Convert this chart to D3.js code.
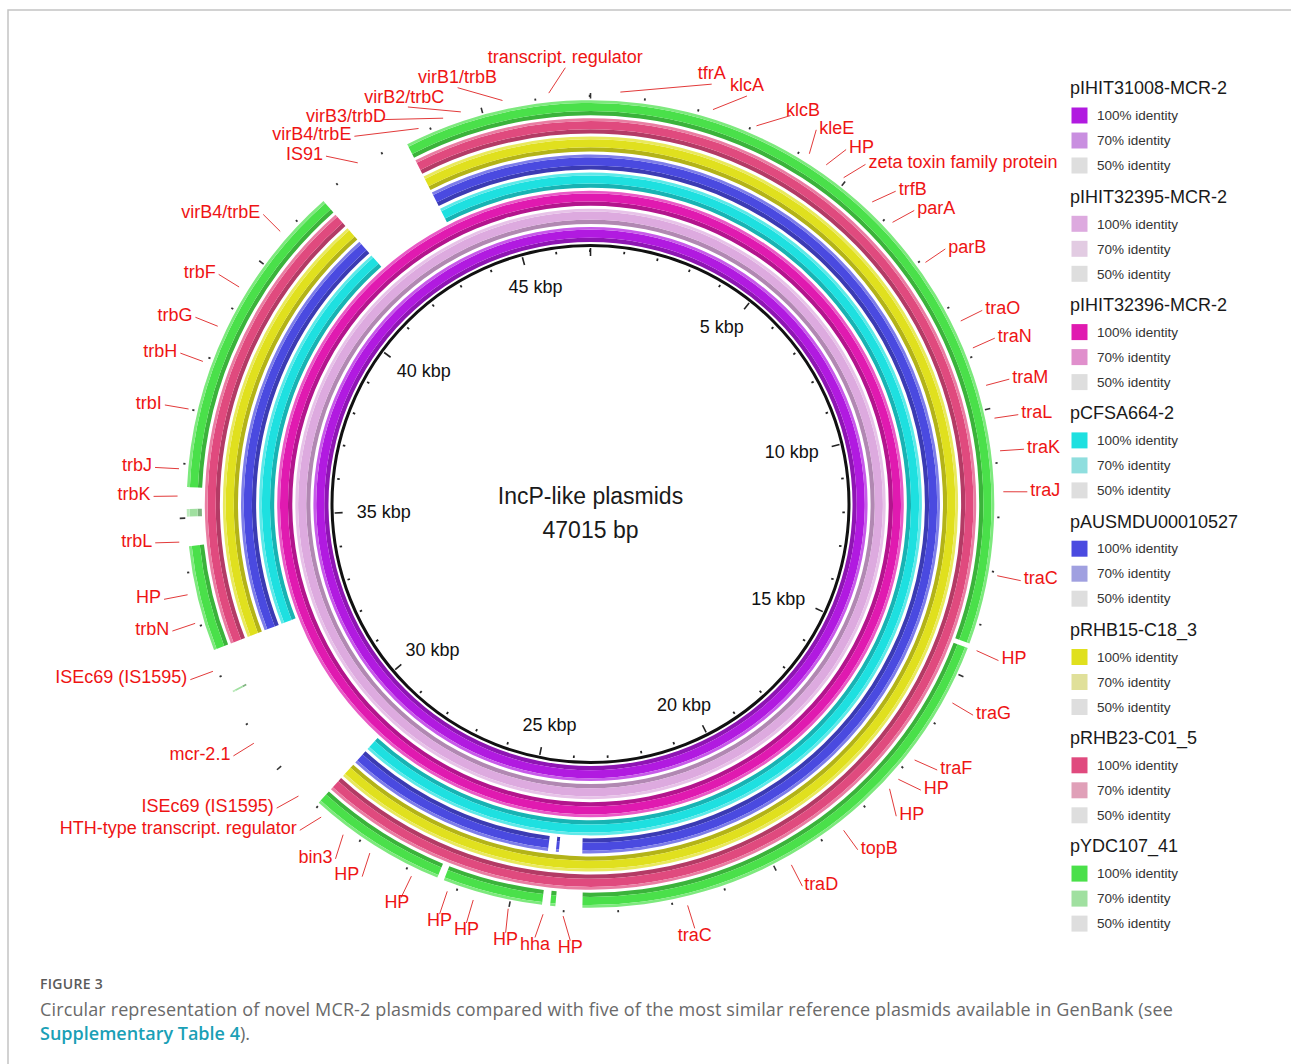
<!DOCTYPE html>
<html>
<head>
<meta charset="utf-8">
<script src="https://cdn.jsdelivr.net/npm/d3@7"></script>
<style>
  body { margin: 0; background: #ffffff; }
  svg { display: block; font-family: "Liberation Sans", Arial, sans-serif; }
</style>
</head>
<body>
<svg id="fig" width="1291" height="1064"></svg>
<script>
// ---------------- data ----------------
const genomeLength = 47015;

// rings, from the innermost to the outermost
const plasmidNames = [
  "pIHIT31008-MCR-2", "pIHIT32395-MCR-2", "pIHIT32396-MCR-2", "pCFSA664-2",
  "pAUSMDU00010527", "pRHB15-C18_3", "pRHB23-C01_5", "pYDC107_41"
];
const identityLevels = ["100% identity", "70% identity", "50% identity"];

// BLAST hits per ring: [start bp, end bp, identity %]
const hitsPIHIT31008 = [[0, 47015, 100]];
const hitsPIHIT32395 = [[0, 47015, 100]];
const hitsPIHIT32396 = [[0, 47015, 100]];
const hitsPCFSA664 = [[0, 29032, 100], [32493, 41608, 100], [43489, 47015, 100]];
const hitsPAUSMDU = [[0, 23684, 100], [24187, 24252, 100], [24422, 29032, 100],
                     [32493, 41608, 100], [43489, 47015, 100]];
const hitsPRHB15 = [[0, 29032, 100], [32493, 41608, 100], [43489, 47015, 100]];
const hitsPRHB23 = [[0, 29032, 100], [32493, 41608, 100], [43489, 47015, 100]];
const hitsPYDC107 = [[0, 14392, 100], [14483, 23658, 100], [24160, 24258, 100],
                     [24409, 26289, 100], [26420, 29032, 100], [31631, 31664, 70],
                     [32493, 34478, 100], [35026, 35170, 70], [35575, 41608, 100],
                     [43489, 47015, 100]];

// annotated genes: name, feature position (bp), label position (bp)
const geneNames = [
  "transcript. regulator", "tfrA", "klcA", "klcB", "kleE", "HP", "zeta toxin family protein",
  "trfB", "parA", "parB", "traO", "traN", "traM", "traL", "traK", "traJ", "traC", "HP",
  "traG", "traF", "HP", "HP", "topB", "traD", "traC", "HP", "hha", "HP", "HP", "HP", "HP",
  "HP", "bin3", "HTH-type transcript. regulator", "ISEc69 (IS1595)", "mcr-2.1",
  "ISEc69 (IS1595)", "trbN", "HP", "trbL", "trbK", "trbJ", "trbI", "trbH", "trbG", "trbF",
  "virB4/trbE", "IS91", "virB4/trbE", "virB3/trbD", "virB2/trbC", "virB1/trbB"
];
const genePositions = [
  46258, 541, 2253, 3095, 4179, 4545, 4937, 5616, 6138, 7078, 8319, 8854, 9573, 10187,
  10787, 11532, 13060, 14470, 15515, 16756, 17213, 17448, 18571, 19707, 21731, 24004,
  24369, 25009, 25662, 26158, 26864, 27726, 28313, 28823, 29384, 30638, 32140, 33067,
  33603, 34569, 35405, 35901, 36998, 37899, 38591, 39401, 40655, 42535, 43802, 44285,
  44625, 45408
];
const geneLabelPositions = [
  46584, 2103, 2740, 3560, 4062, 4675, 5093, 5785, 6243, 7090, 8319, 8841, 9586, 10213,
  10813, 11545, 13073, 14496, 15528, 16651, 17095, 17709, 18584, 19720, 21705, 23854,
  24461, 24970, 25662, 26146, 26864, 27621, 28170, 28953, 29502, 30664, 32166, 33054,
  33616, 34595, 35392, 35888, 36972, 37899, 38565, 39401, 40681, 42150, 42744, 43306,
  43789, 44703
];

// ruler
const rulerLabels = ["5 kbp", "10 kbp", "15 kbp", "20 kbp", "25 kbp", "30 kbp", "35 kbp", "40 kbp", "45 kbp"];
const rulerLabelPositions = [5000, 10000, 15000, 20000, 25000, 30000, 35000, 40000, 45000];
const titleLines = ["IncP-like plasmids", "47015 bp"];

// ---------------- styling ----------------
const fullColors = ["#b11ae0", "#ddaadf", "#e01ab0", "#1ee0e0", "#4a4ae0", "#e0e01e", "#e04a7e", "#4ae04a"];
const partialColors = ["#c98fe0", "#e2cbe2", "#e08fcc", "#8fdede", "#a0a0e0", "#e0e09a", "#e0a0b8", "#a0e0a0"];
const faintColor = "#dedede";
const labelRed = "#ee1414";

const rings = [hitsPIHIT31008, hitsPIHIT32395, hitsPIHIT32396, hitsPCFSA664,
               hitsPAUSMDU, hitsPRHB15, hitsPRHB23, hitsPYDC107]
  .map((hits, i) => ({ name: plasmidNames[i], hits, full: fullColors[i], partial: partialColors[i] }));

// join a hit that runs up to the end of the sequence with one that starts at 0
function wrapHits(hits) {
  const list = hits.map(h => h.slice());
  const last = list[list.length - 1], first = list[0];
  if (list.length > 1 && last[1] >= genomeLength && first[0] <= 0 && last[2] === first[2]) {
    list.pop();
    list[0] = [last[0], genomeLength + first[1], first[2]];
  }
  return list;
}

const svg = d3.select("#fig");
const cx = 590.5, cy = 504;
const angle = d3.scaleLinear().domain([0, genomeLength]).range([0, 2 * Math.PI]);
const polar = (bp, r) => { const t = angle(bp); return [cx + r * Math.sin(t), cy - r * Math.cos(t)]; };
const mix = (c, target, k) => d3.interpolateRgb(c, target)(k);

// frame
svg.append("path").attr("d", "M8,1064 V10 H1291").attr("fill", "none")
  .attr("stroke", "#c4c4c4").attr("stroke-width", 1.5);

const plot = svg.append("g").attr("transform", `translate(${cx},${cy})`);
const arc = d3.arc();

// identity rings with a light rim on the outside and a shadow on the inside
const ringInner = 262, ringStep = 18.1, ringWidth = 15.1;
rings.forEach((ring, i) => {
  const r0 = ringInner + i * ringStep, r1 = r0 + ringWidth;
  const layer = plot.append("g").attr("class", "ring");
  wrapHits(ring.hits).forEach(([s, e, id]) => {
    const base = id >= 100 ? ring.full : id >= 70 ? ring.partial : faintColor;
    const bands = [
      [r0, r0 + 4.2, mix(base, "#000", 0.2)],
      [r0 + 4.2, r1 - 2.8, base],
      [r1 - 2.8, r1, mix(base, "#fff", 0.28)]
    ];
    bands.forEach(([a, b, c]) => {
      layer.append("path")
        .attr("d", arc({ innerRadius: a, outerRadius: b, startAngle: angle(s), endAngle: angle(e) }))
        .attr("fill", c);
    });
  });
});

// backbone circle with inner ruler
const backboneR = 258.5;
plot.append("circle").attr("r", backboneR).attr("fill", "none")
  .attr("stroke", "#111").attr("stroke-width", 3);
const kbSteps = d3.range(0, genomeLength, 1000);
kbSteps.forEach(bp => {
  const major = bp % 5000 === 0;
  const t = angle(bp);
  const ra = major ? 248 : 252, rb = major ? 256 : 254.5;
  plot.append("line")
    .attr("x1", ra * Math.sin(t)).attr("y1", -ra * Math.cos(t))
    .attr("x2", rb * Math.sin(t)).attr("y2", -rb * Math.cos(t))
    .attr("stroke", "#222").attr("stroke-width", major ? 1.6 : 1.8);
});
// outer ruler
kbSteps.forEach(bp => {
  const major = bp % 5000 === 0;
  const t = angle(bp);
  const ra = major ? 405.5 : 407, rb = major ? 411 : 409.2;
  plot.append("line")
    .attr("x1", ra * Math.sin(t)).attr("y1", -ra * Math.cos(t))
    .attr("x2", rb * Math.sin(t)).attr("y2", -rb * Math.cos(t))
    .attr("stroke", "#333").attr("stroke-width", major ? 1.6 : 1.8);
});

// ruler labels, placed just inside the backbone
rulerLabels.forEach((txt, i) => {
  const bp = rulerLabelPositions[i];
  const t = angle(bp), s = Math.sin(t), c = Math.cos(t);
  const [ax, ay] = polar(bp, 236);
  const el = svg.append("text").text(txt).attr("font-size", 18).attr("fill", "#111")
    .attr("text-anchor", "middle").attr("dy", "0.35em");
  const w = el.node().getComputedTextLength();
  el.attr("x", ax - (w / 2 + 2) * s).attr("y", ay + 10.5 * c);
});

// title in the middle
svg.append("text").attr("x", cx).attr("y", cy - 8).attr("dy", "0.35em")
  .attr("text-anchor", "middle").attr("font-size", 23).attr("fill", "#1a1a1a").text(titleLines[0]);
svg.append("text").attr("x", cx).attr("y", cy + 26).attr("dy", "0.35em")
  .attr("text-anchor", "middle").attr("font-size", 23).attr("fill", "#1a1a1a").text(titleLines[1]);

// gene labels with leader lines
const smooth = (a, b, x) => { const u = Math.max(0, Math.min(1, (x - a) / (b - a))); return u * u * (3 - 2 * u); };
geneNames.forEach((name, i) => {
  const [x1, y1] = polar(genePositions[i], 413);
  const [ax, ay] = polar(geneLabelPositions[i], 437);
  svg.append("line").attr("x1", x1).attr("y1", y1).attr("x2", ax).attr("y2", ay)
    .attr("stroke", "#e23a3a").attr("stroke-width", 1);
  const t = angle(geneLabelPositions[i]), s = Math.sin(t), c = Math.cos(t);
  const el = svg.append("text").text(name).attr("font-size", 18).attr("fill", labelRed)
    .attr("text-anchor", "middle").attr("dy", "0.35em");
  const w = el.node().getComputedTextLength();
  const k = smooth(0.4, 0.5, Math.abs(s));
  el.attr("x", ax + Math.sign(s) * k * (w / 2 + 3)).attr("y", ay - (1 - k) * 9 * c - 2.5);
});

// legend
const legend = svg.append("g").attr("transform", "translate(1070,0)");
rings.forEach((ring, i) => {
  const ty = 88 + i * 108.3;
  legend.append("text").attr("x", 0).attr("y", ty).attr("dy", "0.35em")
    .attr("font-size", 18).attr("fill", "#1a1a1a").text(ring.name);
  [ring.full, ring.partial, faintColor].forEach((col, k) => {
    const iy = ty + 27.5 + k * 25;
    legend.append("rect").attr("x", 1.5).attr("y", iy - 8).attr("width", 16).attr("height", 16).attr("fill", col);
    legend.append("text").attr("x", 27).attr("y", iy).attr("dy", "0.35em")
      .attr("font-size", 13.5).attr("fill", "#333").text(identityLevels[k]);
  });
});

// caption
svg.append("text").attr("x", 40).attr("y", 989).attr("font-family", "'Open Sans', sans-serif")
  .attr("font-size", 14).attr("font-weight", 600).attr("letter-spacing", 0.3).attr("fill", "#5a5a5a").text("FIGURE 3");
svg.append("text").attr("x", 40).attr("y", 1016).attr("font-family", "'Open Sans', sans-serif")
  .attr("font-size", 18).attr("letter-spacing", 0.13).attr("fill", "#6a6a6a")
  .text("Circular representation of novel MCR-2 plasmids compared with five of the most similar reference plasmids available in GenBank (see");
const cap2 = svg.append("text").attr("x", 40).attr("y", 1040).attr("font-family", "'Open Sans', sans-serif")
  .attr("font-size", 18).attr("fill", "#6a6a6a");
cap2.append("tspan").attr("fill", "#1aa0b6").attr("font-weight", 600).text("Supplementary Table 4");
cap2.append("tspan").text(").");
</script>
</body>
</html>
